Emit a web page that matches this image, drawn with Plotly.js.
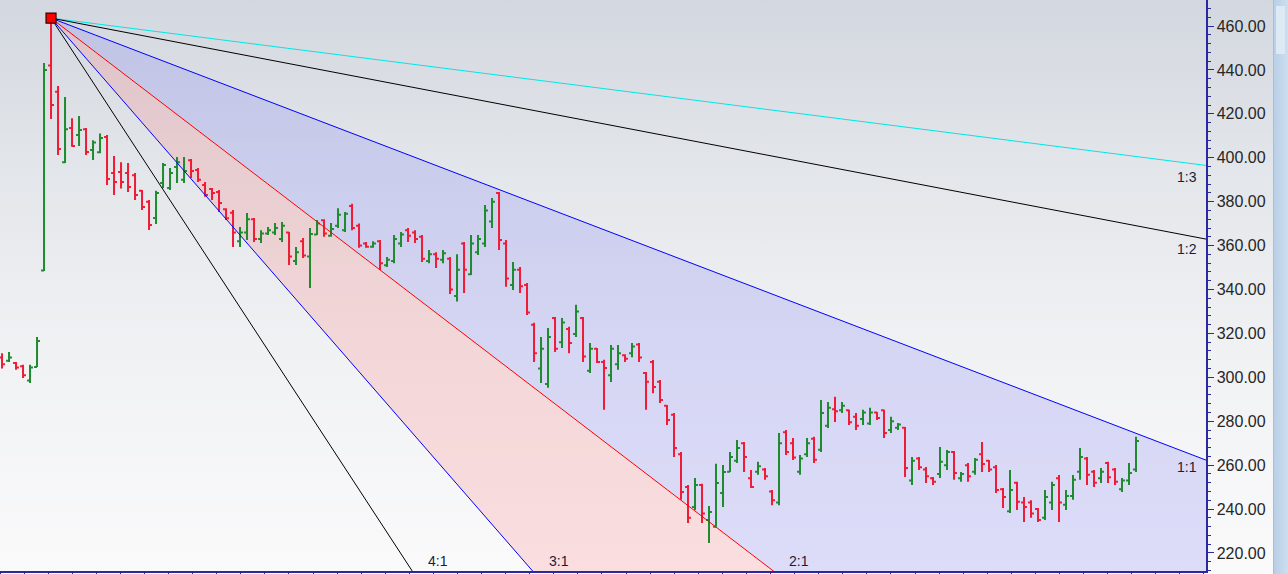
<!DOCTYPE html>
<html>
<head>
<meta charset="utf-8">
<script src="https://cdn.plot.ly/plotly-3.0.1.min.js"></script>
<style>
  html, body { margin: 0; padding: 0; }
  #wrap { position: relative; width: 1288px; height: 574px; overflow: hidden;
    background: linear-gradient(to bottom, #d3d7df 0%, #e3e6ea 30%, #f0f1f3 60%, #fafafb 100%); }
  #chart { position: absolute; left: 0; top: 0; width: 1288px; height: 574px; }
  #strip { position: absolute; left: 1273px; top: 0; width: 15px; height: 574px;
    background: linear-gradient(to right, #b9cfe6, #cfdff0); border-left: 1px solid #a9bfd8; }
  #thumb { position: absolute; left: 1276px; top: 6px; width: 9px; height: 48px; background: #dde9f5; }
</style>
</head>
<body>
<div id="wrap">
  <div id="strip"></div><div id="thumb"></div>
  <div id="chart"></div>
</div>
<script>
// ---- price bars (one per session, in order) ----
const openP = [
  309, 307.5, 306.5, 305, 298.5, 304.7, 348.6, 442, 430, 398,
  413.6, 410.4, 413, 403.5, 402.5, 409.5, 393, 393.5, 393, 392,
  385, 380, 372.6, 388.5, 386.2, 395.8, 390, 398.9, 394.4, 387.6,
  385.8, 384.4, 376.5, 375, 362, 366, 372, 363, 365.5, 366,
  363, 366, 353, 362, 355, 365, 371.5, 364.5, 369, 367,
  378, 369, 361, 359.5, 362, 351, 353, 361, 367, 366,
  364, 353, 356, 353.5, 354, 337, 361, 347, 357, 361,
  371, 384, 361, 342, 349, 342, 324, 304, 297, 327,
  316, 322, 319.7, 327, 303, 313, 307, 301, 306, 310,
  311, 315, 302, 307, 298, 287, 283, 265, 250, 241,
  251, 235, 232, 247.3, 257, 262, 270, 254, 257, 258,
  248, 243, 275, 270, 257, 265, 272, 267, 278, 285.5,
  285, 285, 282, 281, 279, 284, 285, 276, 277, 277,
  253, 263, 258, 254, 256, 260, 266, 254, 260, 257,
  265, 262, 259, 249, 239, 252, 243, 243, 240, 236,
  243, 254, 242, 246, 257, 263, 257, 254, 261, 258,
  249, 253, 258
];
const highP = [
  311, 311.5, 307, 305.7, 305.7, 318.4, 443.2, 463.6, 432.7, 427.7,
  418, 419, 413.6, 408, 411, 410.4, 400.8, 398, 397.6, 393,
  385.3, 380.8, 385, 397.6, 395.3, 400.3, 400.3, 399.4, 395.3, 389,
  386.2, 385.3, 377, 376.2, 368.5, 374.8, 372.6, 367, 368.5, 370.3,
  370.7, 366.2, 359.4, 363.5, 368, 371.7, 372, 370.3, 377, 375.3,
  379, 370, 361.6, 362, 362.5, 354.8, 364.8, 366.2, 368, 367,
  364.8, 358, 357, 358, 354.8, 356, 361.6, 364.8, 364.8, 378.5,
  381.7, 384.4, 362.5, 352.5, 350.3, 343, 324.8, 318.4, 322.5, 327.5,
  327, 323, 333, 327.5, 315.6, 313.4, 308, 314.7, 314.7, 310.5,
  315.6, 315.6, 302.4, 307.9, 298.8, 287.4, 283.8, 266, 251, 254.2,
  251.5, 241.4, 260.6, 260.1, 266, 271.5, 270.6, 257.8, 261.5, 258.7,
  248.7, 274.7, 276, 272.4, 264.6, 272.4, 272.9, 289.7, 288.8, 291.1,
  288.8, 285.2, 283.8, 285.2, 286.1, 284.2, 285.2, 282, 279.2, 277.4,
  263.7, 263.7, 259.2, 254.6, 268.3, 266.9, 266.5, 256.9, 261, 263.3,
  270.6, 262.4, 260.1, 249.6, 257.8, 252.4, 245.5, 244, 240.5, 248.7,
  252.4, 255.5, 248.7, 255.5, 267.8, 263.7, 257.8, 258.7, 261.5, 258.7,
  254.2, 261, 272.9
];
const lowP = [
  304, 307, 303.5, 299.7, 297.4, 304.7, 348.4, 417.6, 401.3, 397.6,
  405, 405.4, 401.3, 399, 402, 387.6, 383, 386, 384.4, 380.8,
  376.2, 367.1, 369.8, 386.2, 385.3, 388.5, 388.5, 390.8, 389, 382.2,
  380.8, 375.3, 371.7, 359.4, 359.4, 362.5, 361.6, 361.2, 364.8, 364.8,
  361.6, 351.2, 351.2, 354.4, 340.7, 364.8, 364, 364, 368, 366.2,
  367, 359, 359, 359, 348.9, 350.3, 352, 359.4, 361.6, 361.2,
  352.5, 352, 349.8, 352, 338, 334.5, 338.4, 346.6, 355.7, 359.4,
  368, 358, 341.2, 339.8, 338.4, 328.4, 307, 297.4, 295.2, 311.5,
  313.4, 311, 318.4, 307, 302, 306.5, 285.2, 297.9, 303.4, 307,
  309.2, 307, 285.2, 292.8, 288.3, 278.3, 263.7, 244.2, 233.7, 239.6,
  233.7, 224.6, 231.9, 241, 256.9, 261, 256.9, 249.6, 255.6, 253.3,
  241.8, 241.8, 264.6, 262.4, 255.6, 263.7, 261, 266, 276.9, 279.7,
  283.8, 278.3, 276, 278.3, 278.3, 280.6, 272.4, 274.7, 276, 254.6,
  251, 257.8, 251.9, 251, 254.2, 257.8, 253.3, 252.4, 252.4, 255.6,
  256.9, 256.9, 247.3, 240.5, 238.2, 239.6, 234.1, 236, 234.1, 235,
  239.6, 234.1, 239.6, 244.2, 253.3, 251, 250.1, 251.9, 251.9, 251,
  247.8, 251, 256.9
];
const closeP = [
  306, 309, 304.5, 301, 304.5, 316.5, 440, 424, 404, 413,
  405.4, 412.6, 402.6, 407, 409, 390.3, 389, 389, 386.7, 383,
  377.6, 369.4, 384, 396.7, 393, 398, 394, 394, 390, 383,
  384, 379.4, 372.5, 366, 366, 372, 363, 365.5, 367, 368,
  369, 355, 357, 355.5, 365.3, 370, 365.5, 367.5, 374, 374.5,
  368, 360, 359.5, 361, 352, 353.5, 363, 365, 364.5, 363,
  354, 356, 354, 356.5, 340, 349, 349, 361, 363, 376,
  380, 362.5, 345, 349, 341.5, 329.5, 311, 313, 318.4, 313,
  325, 315.6, 330, 309.5, 313, 307, 304.3, 313, 311, 308.5,
  314, 309, 298, 295.6, 289.7, 280.6, 267.8, 247.8, 236, 251,
  238, 238.7, 251.9, 256.9, 263.7, 267.8, 263.7, 250, 259.5, 255,
  244, 270, 266, 263.5, 263, 270, 262.5, 283.8, 286.1, 284.5,
  287, 279.5, 278, 284, 284, 281.5, 274.7, 280, 278.5, 258.7,
  262, 259, 255, 252.5, 261.5, 266, 256.4, 256, 255, 262.5,
  260.5, 258, 248.7, 245.5, 248.7, 243.3, 241, 238, 235, 245.5,
  251, 243, 246, 253.3, 263.7, 255.6, 252, 257, 254.5, 252.5,
  253, 256.4, 271
];
const barIndex = openP.map((_, i) => i);

// ---- Gann fan ----
const fanRatios = [1/3, 1/2, 1, 2, 3, 4];
const fanLabels = ['1:3', '1:2', '1:1', '2:1', '3:1', '4:1'];
const fanColors = ['#00e6e6', '#000000', '#0000ff', '#ff0000', '#0000ff', '#000000'];
const pivotIndex = 7;
const pivotPrice = highP[pivotIndex];
const unitSlope = 1.22;     // price per bar for the 1:1 line

const xMin = -0.29, xMax = 172;
const yMin = 211.8, yMax = 471.84;

function fanAt(ratio, x) { return pivotPrice - ratio * unitSlope * (x - pivotIndex); }

const traces = [];
traces.push({
  type: 'ohlc', x: barIndex, open: openP, high: highP, low: lowP, close: closeP,
  increasing: { line: { color: '#1f8a2e', width: 2 } },
  decreasing: { line: { color: '#ee1c35', width: 2 } },
  tickwidth: 0.42, hoverinfo: 'none', showlegend: false
});
fanRatios.forEach((r, k) => {
  traces.push({
    type: 'scatter', mode: 'lines', x: [pivotIndex, xMax], y: [pivotPrice, fanAt(r, xMax)],
    line: { color: fanColors[k], width: 1 }, hoverinfo: 'none', showlegend: false
  });
});
traces.push({
  type: 'scatter', mode: 'markers', x: [pivotIndex], y: [pivotPrice],
  marker: { symbol: 'square', size: 10, color: '#ff0000', line: { color: '#300000', width: 1.2 } },
  hoverinfo: 'none', showlegend: false, cliponaxis: false
});

function bandPath(r1, r2) {
  return 'M ' + pivotIndex + ',' + pivotPrice +
         ' L ' + xMax + ',' + fanAt(r1, xMax) +
         ' L ' + xMax + ',' + fanAt(r2, xMax) + ' Z';
}
const shapes = [
  { type: 'path', xref: 'x', yref: 'y', path: bandPath(1, 2), fillcolor: 'rgba(120,120,245,0.22)', line: { width: 0 }, layer: 'below' },
  { type: 'path', xref: 'x', yref: 'y', path: bandPath(2, 3), fillcolor: 'rgba(255,110,110,0.2)', line: { width: 0 }, layer: 'below' }
];

const labelFont = { family: 'Liberation Sans, Arial, sans-serif', size: 14, color: '#1c1c3a' };
const annotations = [];
// right-edge labels for the flat fans
[0, 1, 2].forEach(k => {
  const xl = 169.3;
  annotations.push({ x: xl, y: fanAt(fanRatios[k], xl), xref: 'x', yref: 'y', text: fanLabels[k],
    showarrow: false, yanchor: 'top', xanchor: 'center', yshift: -4, font: labelFont });
});
// bottom labels for the steep fans
[3, 4, 5].forEach(k => {
  const xh = pivotIndex + (pivotPrice - yMin) / (fanRatios[k] * unitSlope);
  annotations.push({ x: xh, y: 0, xref: 'x', yref: 'paper', text: fanLabels[k],
    showarrow: false, yanchor: 'bottom', xanchor: 'center', xshift: 26, yshift: 0, font: labelFont });
});

const layout = {
  width: 1288, height: 574,
  margin: { l: 0, r: 82, t: 0, b: 3, pad: 0 },
  paper_bgcolor: 'rgba(0,0,0,0)', plot_bgcolor: 'rgba(0,0,0,0)',
  showlegend: false, dragmode: false,
  xaxis: {
    range: [xMin, xMax], showgrid: false, zeroline: false, showticklabels: false,
    showline: true, linecolor: '#2a2aa0', linewidth: 1.5,
    ticks: 'outside', ticklen: 3, tickcolor: '#2a2aa0', tick0: xMin, dtick: 3.44,
    rangeslider: { visible: false }, fixedrange: true
  },
  yaxis: {
    range: [yMin, yMax], side: 'right', showgrid: false, zeroline: false,
    showline: true, linecolor: '#2a2aa0', linewidth: 1.5,
    ticks: 'outside', ticklen: 6, tickcolor: '#2a2aa0', dtick: 20, tickformat: '.2f',
    tickfont: { family: 'Liberation Sans, Arial, sans-serif', size: 16, color: '#262626' },
    minor: { dtick: 4, ticks: 'outside', ticklen: 3, tickcolor: '#2a2aa0', showgrid: false },
    fixedrange: true
  },
  shapes: shapes,
  annotations: annotations
};

Plotly.newPlot('chart', traces, layout, { displayModeBar: false, staticPlot: true });
</script>
</body>
</html>
